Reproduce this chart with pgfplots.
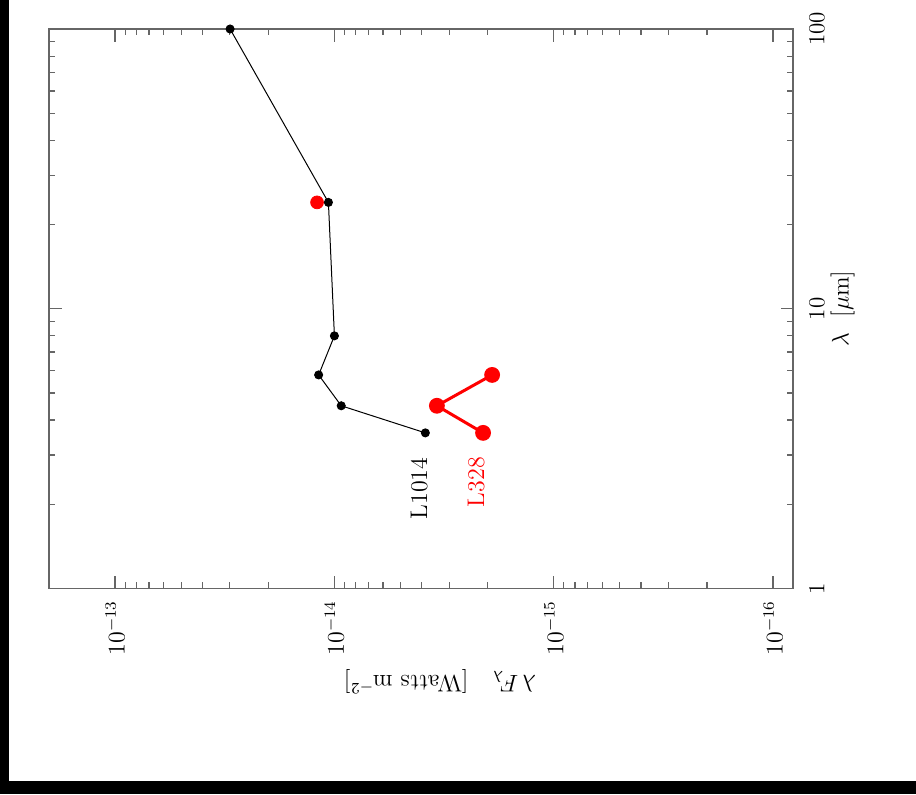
\documentclass[border=0pt]{standalone}
\usepackage{pgfplots}
\pgfplotsset{compat=1.18}
\begin{document}
\begin{tikzpicture}
\useasboundingbox (0,0) rectangle (458pt,397pt);
\fill[black] (0,0) rectangle (458pt,397pt);
\fill[white] (4.5pt,6.6pt) rectangle (458pt,397pt);
\begin{scope}[shift={(396.5pt,102.75pt)}, rotate=90, transform shape]
\begin{axis}[
  at={(0,0)}, anchor=south west,
  scale only axis, width=279.75pt, height=372pt,
  xmode=log, ymode=log,
  xmin=1, xmax=100, ymin=8.11e-17, ymax=2.0e-13,
  xtick={1,10,100}, xticklabels={1,10,100},
  ytick={1e-16,1e-15,1e-14,1e-13},
  tick align=inside,
  major tick length=6.3pt, minor tick length=3.2pt,
  axis line style={black!60, line width=0.6pt},
  every tick/.style={black!60, line width=0.6pt},
  xticklabel shift=4.5pt, yticklabel shift=2.5pt,
  tick label style={font=\fontsize{11.5}{13}\selectfont},
  label style={font=\fontsize{12}{14}\selectfont},
  xlabel={$\lambda$\ \ [$\mu$m]},
  xlabel style={yshift=4pt},
  ylabel={$\lambda\,F_\lambda$\quad [Watts m$^{-2}$]},
  ylabel style={at={(ticklabel cs:0.4745)}},
  clip=false,
]
\addplot[red, only marks, mark=*, mark size=3.2pt] coordinates {(24,1.20e-14)};
\addplot[black, line width=0.5pt, mark=*, mark size=2pt, mark options={fill=black}] coordinates {
(3.6,3.85e-15) (4.5,9.31e-15) (5.8,1.18e-14) (8.0,1.0e-14) (24,1.065e-14) (100,2.99e-14)};
\addplot[red, line width=1.5pt, mark=*, mark size=3.2pt, mark options={fill=red}] coordinates {
(3.6,2.10e-15) (4.5,3.41e-15) (5.8,1.91e-15)};
\node[font=\fontsize{12}{14}\selectfont, black] at (axis cs:2.28,4.11e-15) {L1014};
\node[font=\fontsize{12}{14}\selectfont, red] at (axis cs:2.40,2.26e-15) {L328};
\end{axis}
\end{scope}
\end{tikzpicture}
\end{document}
